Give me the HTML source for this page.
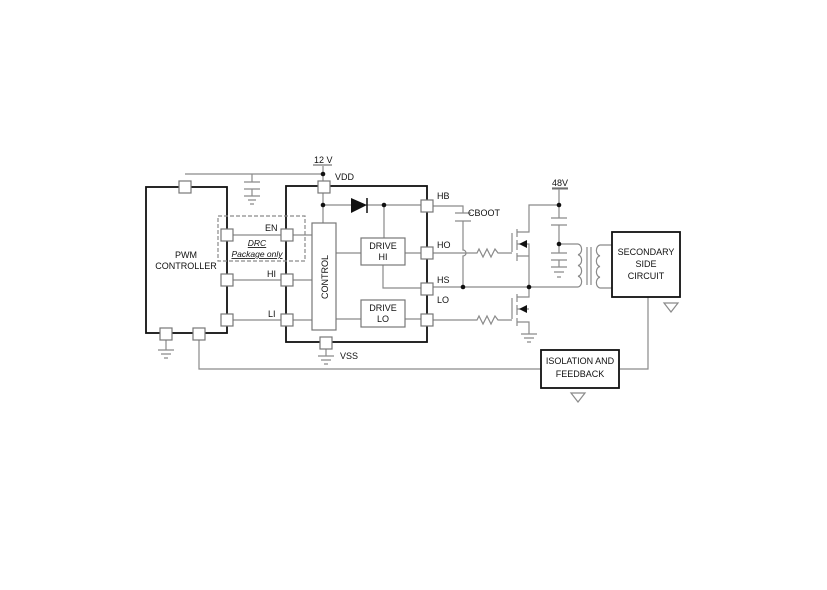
<!DOCTYPE html>
<html><head><meta charset="utf-8"><style>
html,body{margin:0;padding:0;background:#fff;}
svg{display:block;font-family:"Liberation Sans",sans-serif;}
</style></head><body>
<svg width="827" height="590" viewBox="0 0 827 590" xmlns="http://www.w3.org/2000/svg">
<g fill="none" stroke="#111" stroke-width="1.8">
<rect x="146" y="187" width="81" height="146"/>
<rect x="286" y="186" width="141" height="156"/>
</g>
<g fill="none" stroke="#8a8a8a" stroke-width="1.2">
<path d="M185 174 H323 V181"/>
<path d="M323 166 V174"/>
<path d="M252 174 V182 M244 182 H260 M244 189 H260 M252 189 V196 M244 196 H260 M248 200 H256 M250 204 H254"/>
<path d="M232 235 H281 M293 235 H312"/>
<path d="M232 280 H281 M293 280 H312"/>
<path d="M232 320 H281 M293 320 H312"/>
<path d="M166 340 V350 M158 350 H174 M161 354 H171 M164 358 H168"/>
<path d="M199 340 V369 H541"/>
<path d="M323 193 V223 M323 205 H351 M366 205 H421 M384 205 V238"/>
<path d="M336 253 H361 M405 253 H421 M383 265 V288 H421"/>
<path d="M336 319 H361 M405 319 H421"/>
<path d="M326 349 V356 M318 356 H334 M321 360 H331 M324 364 H328"/>
<path d="M433 206 H463 V213 M455 213 H471 M455 221 H471 M463 221 V250 A3 3 0 0 1 463 256 V287"/>
<path d="M433 253 H477 l2 -4 l4 8 l4 -8 l4 8 l4 -8 l3 4 H512"/>
<path d="M433 287 H578"/>
<path d="M433 320 H477 l2 -4 l4 8 l4 -8 l4 8 l4 -8 l3 4 H512"/>
<path d="M512 233 V252 M517 229 V237 M517 240 V250 M517 253 V261 M517 232 H529 V205 H559 M517 244 H529 V287 M517 256 H529"/>
<path d="M512 298 V319 M517 294 V302 M517 305 V315 M517 318 V326 M517 297 H529 V287 M517 309 H529 M517 322 H529 V334 M521 334 H537 M524 338 H534 M527 342 H531"/>
<path d="M552 189 H568 M559 189 V218 M551 218 H567 M551 225 H567 M559 225 V253 M551 253 H567 M551 260 H567 M559 260 V267 M551 267 H567 M554 272 H564 M557 277 H561"/>
<path d="M559 244 H578"/>
<path d="M578 244 a4 5.4 0 0 1 0 10.75 a4 5.4 0 0 1 0 10.75 a4 5.4 0 0 1 0 10.75 a4 5.4 0 0 1 0 10.75"/>
<path d="M587 247 V285 M591 247 V285"/>
<path d="M612 245 H600 a4 5.4 0 0 0 0 10.75 a4 5.4 0 0 0 0 10.75 a4 5.4 0 0 0 0 10.75 a4 5.4 0 0 0 0 10.75 H612"/>
<path d="M648 297 V369 H620"/>
<path d="M664 303 H678 L671 312 Z"/>
<path d="M571 393 H585 L578 402 Z"/>
<rect x="218" y="216" width="87" height="45" stroke-dasharray="4 2"/>
</g>
<g fill="#111">
<circle cx="323" cy="174" r="2.3"/><circle cx="323" cy="205" r="2.3"/><circle cx="384" cy="205" r="2.3"/>
<circle cx="463" cy="287" r="2.3"/><circle cx="529" cy="287" r="2.3"/><circle cx="559" cy="205" r="2.3"/><circle cx="559" cy="244" r="2.3"/>
<path d="M351 198 L367 205 L351 213 Z"/>
<path d="M367 198 V213" stroke="#111" stroke-width="1.5"/>
<path d="M519 244 L527 240 V248 Z"/><path d="M519 309 L527 305 V313 Z"/>
</g>
<g fill="#fff" stroke="#111" stroke-width="1.8">
<rect x="612" y="232" width="68" height="65"/>
<rect x="541" y="350" width="78" height="38"/>
</g>
<g fill="#fff" stroke="#777" stroke-width="1.2">
<rect x="312" y="223" width="24" height="107"/>
<rect x="361" y="238" width="44" height="27"/>
<rect x="361" y="300" width="44" height="27"/>
<rect x="179" y="181" width="12" height="12"/>
<rect x="221" y="229" width="12" height="12"/>
<rect x="221" y="274" width="12" height="12"/>
<rect x="221" y="314" width="12" height="12"/>
<rect x="160" y="328" width="12" height="12"/>
<rect x="193" y="328" width="12" height="12"/>
<rect x="281" y="229" width="12" height="12"/>
<rect x="281" y="274" width="12" height="12"/>
<rect x="281" y="314" width="12" height="12"/>
<rect x="318" y="181" width="12" height="12"/>
<rect x="421" y="200" width="12" height="12"/>
<rect x="421" y="247" width="12" height="12"/>
<rect x="421" y="283" width="12" height="12"/>
<rect x="421" y="314" width="12" height="12"/>
<rect x="320" y="337" width="12" height="12"/>
</g>
<path d="M313 165 H332 M552 188 H568" stroke="#555" stroke-width="1"/>
<g fill="#111" font-size="9">
<text x="314" y="163">12 V</text>
<text x="335" y="180">VDD</text>
<text x="552" y="186">48V</text>
<text x="265" y="231">EN</text>
<text x="267" y="277">HI</text>
<text x="268" y="317">LI</text>
<text x="437" y="199">HB</text>
<text x="437" y="248">HO</text>
<text x="437" y="283">HS</text>
<text x="437" y="303">LO</text>
<text x="468" y="216">CBOOT</text>
<text x="340" y="359">VSS</text>
<text x="186" y="258" text-anchor="middle">PWM</text>
<text x="186" y="269" text-anchor="middle">CONTROLLER</text>
<text x="383" y="249" text-anchor="middle">DRIVE</text>
<text x="383" y="260" text-anchor="middle">HI</text>
<text x="383" y="311" text-anchor="middle">DRIVE</text>
<text x="383" y="322" text-anchor="middle">LO</text>
<text x="646" y="255" text-anchor="middle">SECONDARY</text>
<text x="646" y="267" text-anchor="middle">SIDE</text>
<text x="646" y="279" text-anchor="middle">CIRCUIT</text>
<text x="580" y="364" text-anchor="middle">ISOLATION AND</text>
<text x="580" y="377" text-anchor="middle">FEEDBACK</text>
<text x="328" y="277" text-anchor="middle" transform="rotate(-90 328 277)">CONTROL</text>
<text x="257" y="246" text-anchor="middle" font-style="italic" text-decoration="underline" font-size="8.5">DRC</text>
<text x="257" y="257" text-anchor="middle" font-style="italic" text-decoration="underline" font-size="8.5">Package only</text>
</g>
</svg>
</body></html>
